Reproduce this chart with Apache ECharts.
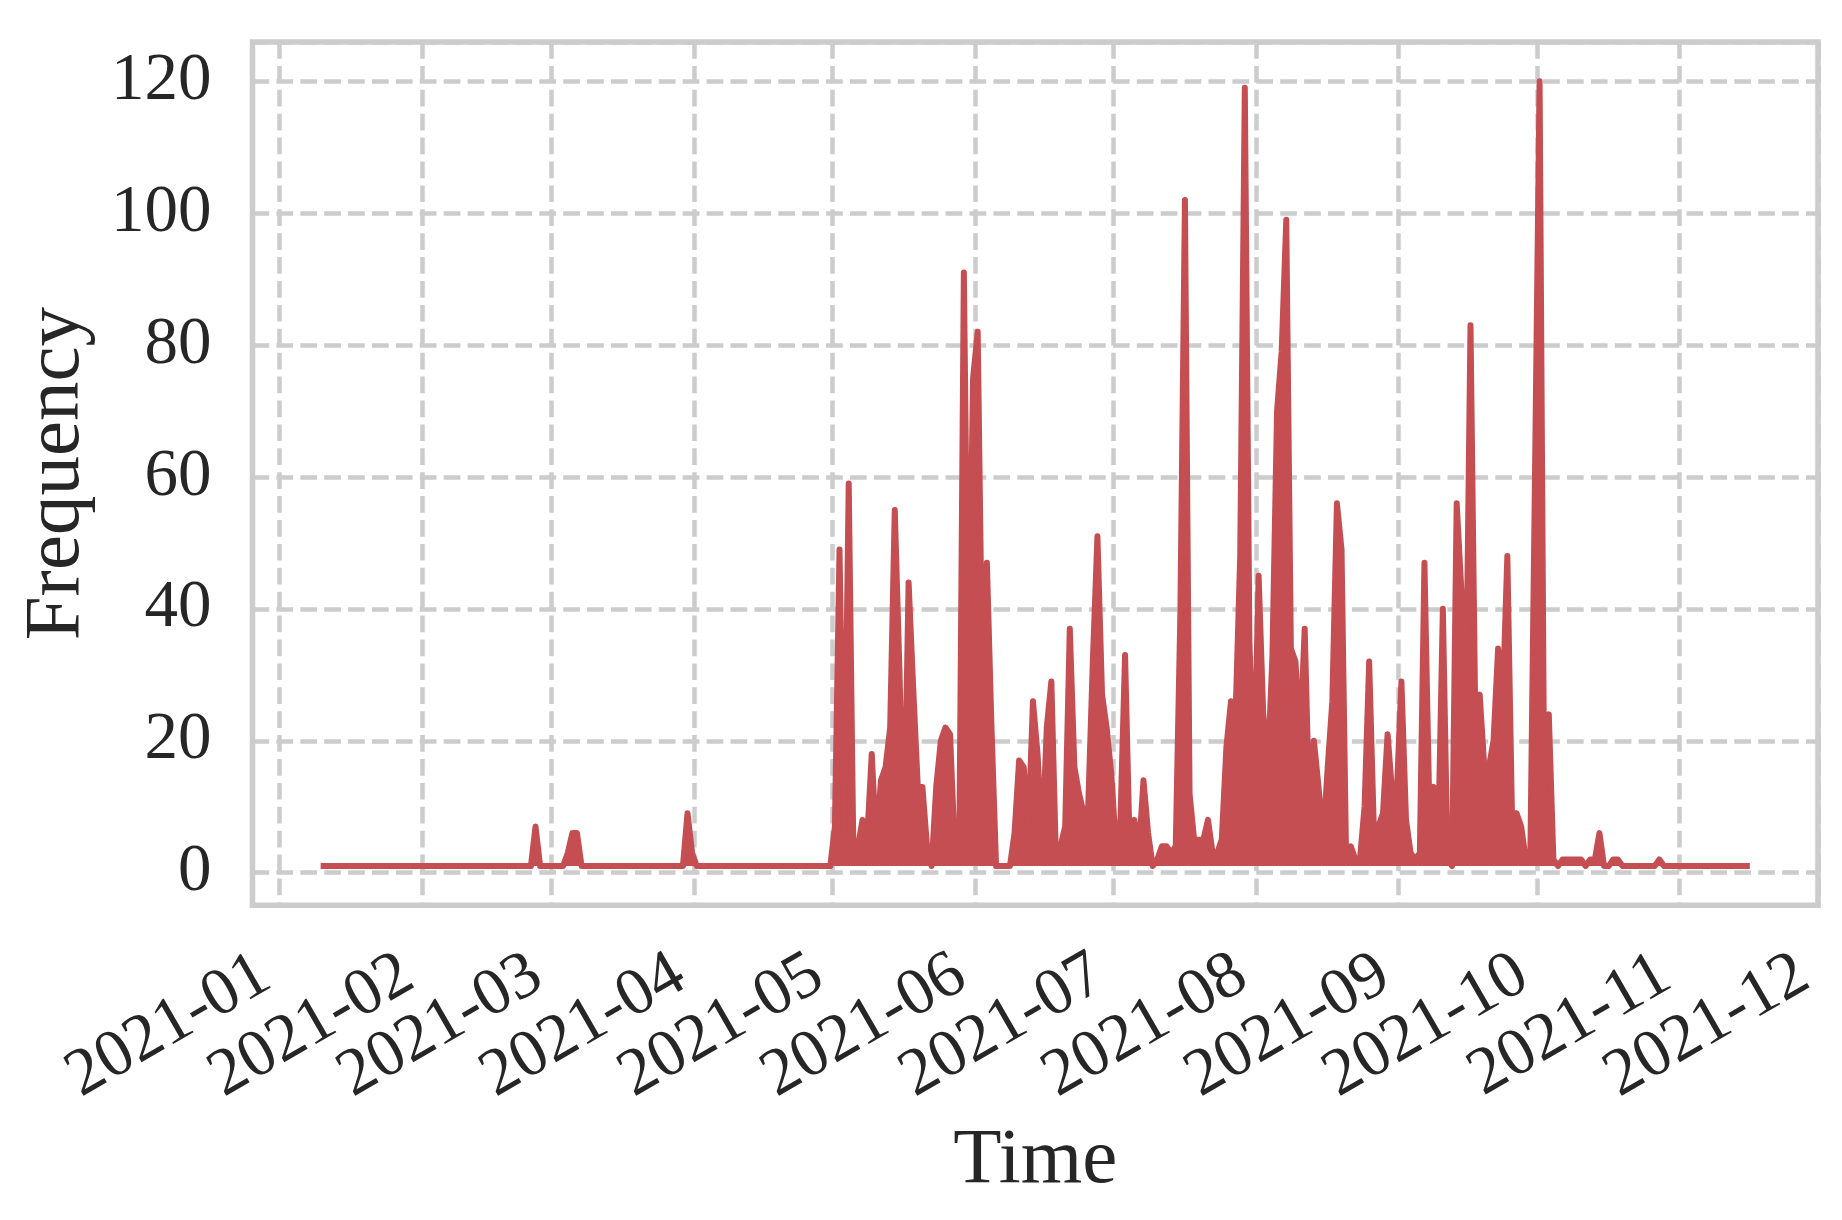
<!DOCTYPE html>
<html>
<head>
<meta charset="utf-8">
<script src="https://cdn.jsdelivr.net/npm/echarts@6/dist/echarts.min.js"></script>
<style>
  html, body { margin: 0; padding: 0; background: #ffffff; }
  #chart { width: 1842px; height: 1220px; }
</style>
</head>
<body>
<div id="chart"></div>
<script>
// ---- Data (daily frequency) ----
const startDay = [2021, 0, 10];            // first observation: 2021-01-10
const obsHour = 14, obsMinute = 24;         // time of day of each observation
const tickLabels = ['2021-01','2021-02','2021-03','2021-04','2021-05','2021-06',
                    '2021-07','2021-08','2021-09','2021-10','2021-11','2021-12'];

const valuesJan = [1,1,1,1,1,1,1,1,1,1,1,1,1,1,1,1,1,1,1,1,1,1]; // Jan 10-31
const valuesFeb = [1,1,1,1,1,1,1,1,1,1,1,1,1,1,1,1,1,1,1,1,1,1,1,1,7,1,1,1];
const valuesMar = [1,1,1,3,6,6,1,1,1,1,1,1,1,1,1,1,1,1,1,1,1,1,1,1,1,1,1,1,1,9,3];
const valuesApr = [1,1,1,1,1,1,1,1,1,1,1,1,1,1,1,1,1,1,1,1,1,1,1,1,1,1,1,1,1,1];
const valuesMay = [7,49,5,59,4,4,8,5,18,4,14,16,22,55,31,4,44,28,13,13,4,1,13,20,22,21,4,3,91,28,75];
const valuesJun = [82,30,47,22,1,1,1,1,6,17,16,6,26,18,4,22,29,2,4,7,37,16,12,9,10,32,51,27,22,15];
const valuesJul = [4,8,33,4,8,3,14,6,1,2,4,4,3,4,39,102,12,5,5,5,8,3,3,5,19,26,24,48,119,35,14];
const valuesAug = [45,24,16,33,70,79,99,34,32,20,37,10,20,13,5,16,26,56,49,2,4,2,2,10,32,7,7,9,21,12,12];
const valuesSep = [29,8,3,2,3,47,12,13,5,40,2,1,56,43,24,83,26,27,16,16,20,34,26,48,9,9,7,2,3,60];
const valuesOct = [120,12,24,2,1,2,2,2,2,2,1,2,2,6,1,1,2,2,1,1,1,1,1,1,1,1,2,1,1,1,1];
const valuesNov = [1,1,1,1,1,1,1,1,1,1,1,1,1,1,1]; // Nov 1-15

const values = [].concat(valuesJan, valuesFeb, valuesMar, valuesApr, valuesMay, valuesJun,
                         valuesJul, valuesAug, valuesSep, valuesOct, valuesNov);
const seriesData = values.map((v, i) => [
  new Date(startDay[0], startDay[1], startDay[2] + i, obsHour, obsMinute).getTime(), v
]);

// axis extents (matplotlib-style 5% margins)
const DAY = 86400000;
const jan1 = new Date(2021, 0, 1).getTime();
const xMin = jan1 - 5.85 * DAY;
const xMax = jan1 + 334.05 * DAY;
const yMin = -4.95, yMax = 125.95;

const FONT = '"Liberation Serif", "Times New Roman", serif';
const TEXT = '#262626';
const GRIDC = '#cccccc';
const RED = '#c44e52';

const chart = echarts.init(document.getElementById('chart'), null, { renderer: 'canvas' });
chart.setOption({
  animation: false,
  backgroundColor: '#ffffff',
  grid: {
    left: 252.5, top: 42, width: 1565.5, height: 863.3,
    show: true, borderColor: GRIDC, borderWidth: 5.5, backgroundColor: 'transparent',
    containLabel: false
  },
  xAxis: {
    type: 'time',
    min: xMin, max: xMax,
    splitNumber: 12,
    minInterval: 28 * DAY,
    maxInterval: 31 * DAY,
    name: 'Time',
    nameLocation: 'middle',
    nameGap: 216,
    nameTextStyle: { fontFamily: FONT, fontSize: 79, color: TEXT },
    axisLine: { show: false },
    axisTick: { show: false },
    axisLabel: {
      rotate: 30,
      margin: 57,
      padding: [0, 16, 0, 0],
      fontFamily: FONT, fontSize: 67, color: TEXT,
      showMinLabel: true, showMaxLabel: true,
      formatter: function (val) {
        const d = new Date(val);
        if (d.getDate() !== 1 || d.getHours() !== 0 || d.getMinutes() !== 0) return '';
        if (d.getFullYear() !== 2021) return '';
        return tickLabels[d.getMonth()];
      }
    },
    splitLine: {
      show: true,
      lineStyle: { color: GRIDC, width: 4.5, type: [16.7, 7.2] }
    }
  },
  yAxis: {
    type: 'value',
    min: yMin, max: yMax,
    splitNumber: 6,
    name: 'Frequency',
    nameLocation: 'middle',
    nameGap: 156,
    nameTextStyle: { fontFamily: FONT, fontSize: 79, color: TEXT },
    axisLine: { show: false },
    axisTick: { show: false },
    axisLabel: {
      margin: 41,
      fontFamily: FONT, fontSize: 67, color: TEXT,
      formatter: function (v) {
        const r = Math.round(v / 20) * 20;
        return Math.abs(v - r) < 1e-6 ? String(r) : '';
      }
    },
    splitLine: {
      show: true,
      lineStyle: { color: GRIDC, width: 4.5, type: [16.7, 7.2] }
    }
  },
  series: [{
    type: 'line',
    data: seriesData,
    showSymbol: false,
    symbol: 'none',
    smooth: false,
    lineStyle: { color: RED, width: 6, cap: 'square', join: 'round' },
    areaStyle: { color: RED, opacity: 1, origin: 1 },
    itemStyle: { color: RED },
    z: 3
  }]
});
</script>
</body>
</html>
